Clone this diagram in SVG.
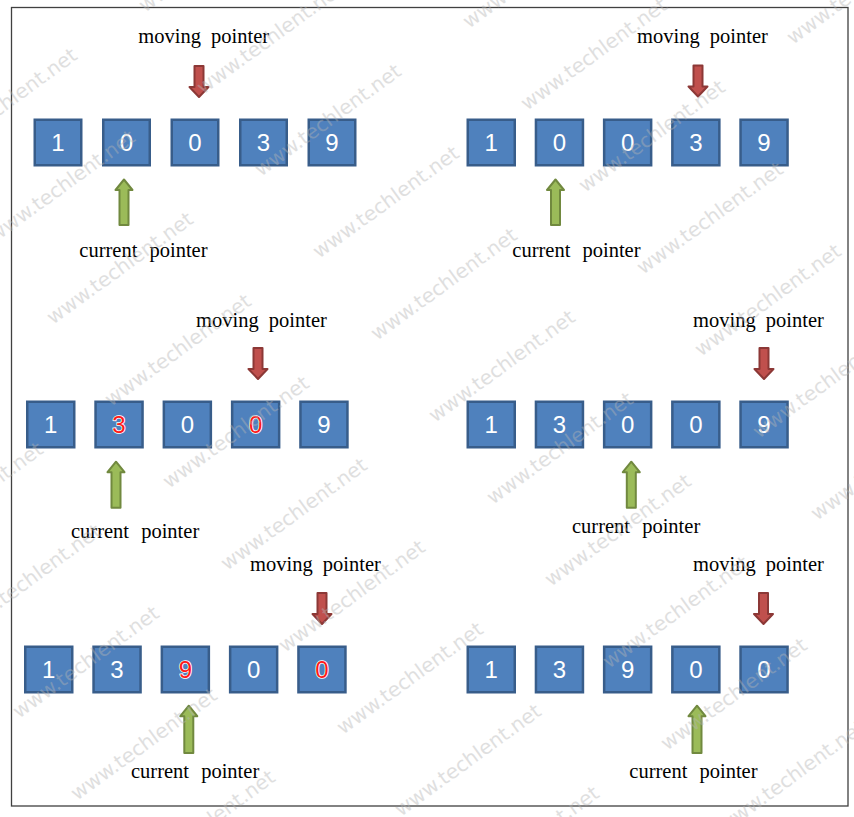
<svg xmlns="http://www.w3.org/2000/svg" width="854" height="817" viewBox="0 0 854 817">
<style>
.box{fill:#4f81bd;stroke:#385d8a;stroke-width:2.5}
.dg{font-family:"Liberation Sans",Arial,sans-serif;font-size:24px;fill:#ffffff;text-anchor:middle}
.dr{fill:#ff1a1a;stroke:#ffffff;stroke-width:1.6;paint-order:stroke}
.lbl{font-family:"Liberation Serif","Times New Roman",serif;font-size:20.5px;fill:#000000}
.mv{word-spacing:5px}
.cu{word-spacing:7px}
.red{fill:#c0504d;stroke:#8c3836;stroke-width:2;stroke-linejoin:round}
.grn{fill:#9bbb59;stroke:#71893f;stroke-width:2;stroke-linejoin:round}
.frame{fill:#ffffff;stroke:#404040;stroke-width:1.3}
.wm{font-family:"DejaVu Sans",Verdana,sans-serif;font-size:20px;fill:#b4b4b4;opacity:0.42}
</style>
<rect x="0" y="0" width="854" height="817" fill="#ffffff"/>
<rect class="frame" x="11.5" y="7.5" width="836.5" height="798.5"/>

<!-- Panel 1 -->
<g id="p1">
<g id="p1-b1"><rect class="box" x="34.75" y="119.75" width="46.5" height="45.5"/><text class="dg" x="58" y="151">1</text></g>
<g id="p1-b2"><rect class="box" x="103.25" y="119.75" width="46.5" height="45.5"/><text class="dg" x="126.5" y="151">0</text></g>
<g id="p1-b3"><rect class="box" x="171.75" y="119.75" width="46.5" height="45.5"/><text class="dg" x="195" y="151">0</text></g>
<g id="p1-b4"><rect class="box" x="240.25" y="119.75" width="46.5" height="45.5"/><text class="dg" x="263.5" y="151">3</text></g>
<g id="p1-b5"><rect class="box" x="308.75" y="119.75" width="46.5" height="45.5"/><text class="dg" x="332" y="151">9</text></g>
<g id="p1-moving-label"><text class="lbl mv" x="138.3" y="43.3">moving pointer</text></g>
<g id="p1-current-label"><text class="lbl cu" x="79.3" y="257">current pointer</text></g>
</g>

<!-- Panel 2 -->
<g id="p2">
<g id="p2-b1"><rect class="box" x="467.75" y="119.75" width="47" height="45.5"/><text class="dg" x="491.25" y="151">1</text></g>
<g id="p2-b2"><rect class="box" x="535.95" y="119.75" width="47" height="45.5"/><text class="dg" x="559.45" y="151">0</text></g>
<g id="p2-b3"><rect class="box" x="604.15" y="119.75" width="47" height="45.5"/><text class="dg" x="627.65" y="151">0</text></g>
<g id="p2-b4"><rect class="box" x="672.35" y="119.75" width="47" height="45.5"/><text class="dg" x="695.85" y="151">3</text></g>
<g id="p2-b5"><rect class="box" x="740.55" y="119.75" width="47" height="45.5"/><text class="dg" x="764.05" y="151">9</text></g>
<g id="p2-moving-label"><text class="lbl mv" x="637" y="43.3">moving pointer</text></g>
<g id="p2-current-label"><text class="lbl cu" x="512.3" y="257">current pointer</text></g>
</g>

<!-- Panel 3 -->
<g id="p3">
<g id="p3-b1"><rect class="box" x="27.25" y="401.75" width="47" height="45.5"/><text class="dg" x="50.75" y="433.1">1</text></g>
<g id="p3-b2"><rect class="box" x="95.55" y="401.75" width="47" height="45.5"/><text class="dg dr" x="119.05" y="433.1">3</text></g>
<g id="p3-b3"><rect class="box" x="163.85" y="401.75" width="47" height="45.5"/><text class="dg" x="187.35" y="433.1">0</text></g>
<g id="p3-b4"><rect class="box" x="232.15" y="401.75" width="47" height="45.5"/><text class="dg dr" x="255.65" y="433.1">0</text></g>
<g id="p3-b5"><rect class="box" x="300.45" y="401.75" width="47" height="45.5"/><text class="dg" x="323.95" y="433.1">9</text></g>
<g id="p3-moving-label"><text class="lbl mv" x="196" y="326.7">moving pointer</text></g>
<g id="p3-current-label"><text class="lbl cu" x="71" y="538">current pointer</text></g>
</g>

<!-- Panel 4 -->
<g id="p4">
<g id="p4-b1"><rect class="box" x="467.75" y="401.75" width="47" height="45.5"/><text class="dg" x="491.25" y="433.1">1</text></g>
<g id="p4-b2"><rect class="box" x="535.95" y="401.75" width="47" height="45.5"/><text class="dg" x="559.45" y="433.1">3</text></g>
<g id="p4-b3"><rect class="box" x="604.15" y="401.75" width="47" height="45.5"/><text class="dg" x="627.65" y="433.1">0</text></g>
<g id="p4-b4"><rect class="box" x="672.35" y="401.75" width="47" height="45.5"/><text class="dg" x="695.85" y="433.1">0</text></g>
<g id="p4-b5"><rect class="box" x="740.55" y="401.75" width="47" height="45.5"/><text class="dg" x="764.05" y="433.1">9</text></g>
<g id="p4-moving-label"><text class="lbl mv" x="693" y="326.7">moving pointer</text></g>
<g id="p4-current-label"><text class="lbl cu" x="572" y="533">current pointer</text></g>
</g>

<!-- Panel 5 -->
<g id="p5">
<g id="p5-b1"><rect class="box" x="25.25" y="646.75" width="47" height="45.5"/><text class="dg" x="48.75" y="678.1">1</text></g>
<g id="p5-b2"><rect class="box" x="93.55" y="646.75" width="47" height="45.5"/><text class="dg" x="117.05" y="678.1">3</text></g>
<g id="p5-b3"><rect class="box" x="161.85" y="646.75" width="47" height="45.5"/><text class="dg dr" x="185.35" y="678.1">9</text></g>
<g id="p5-b4"><rect class="box" x="230.15" y="646.75" width="47" height="45.5"/><text class="dg" x="253.65" y="678.1">0</text></g>
<g id="p5-b5"><rect class="box" x="298.45" y="646.75" width="47" height="45.5"/><text class="dg dr" x="321.95" y="678.1">0</text></g>
<g id="p5-moving-label"><text class="lbl mv" x="250" y="570.7">moving pointer</text></g>
<g id="p5-current-label"><text class="lbl cu" x="131" y="778">current pointer</text></g>
</g>

<!-- Panel 6 -->
<g id="p6">
<g id="p6-b1"><rect class="box" x="467.75" y="646.75" width="47" height="45.5"/><text class="dg" x="491.25" y="678.1">1</text></g>
<g id="p6-b2"><rect class="box" x="535.95" y="646.75" width="47" height="45.5"/><text class="dg" x="559.45" y="678.1">3</text></g>
<g id="p6-b3"><rect class="box" x="604.15" y="646.75" width="47" height="45.5"/><text class="dg" x="627.65" y="678.1">9</text></g>
<g id="p6-b4"><rect class="box" x="672.35" y="646.75" width="47" height="45.5"/><text class="dg" x="695.85" y="678.1">0</text></g>
<g id="p6-b5"><rect class="box" x="740.55" y="646.75" width="47" height="45.5"/><text class="dg" x="764.05" y="678.1">0</text></g>
<g id="p6-moving-label"><text class="lbl mv" x="693" y="570.7">moving pointer</text></g>
<g id="p6-current-label"><text class="lbl cu" x="629.3" y="778">current pointer</text></g>
</g>

<!-- Pointer arrows -->
<g id="connectors">
<path class="red" d="M194.5,66 L203.5,66 L203.5,87 L208.5,87 L199,97 L189.5,87 L194.5,87 Z"/>
<path class="red" d="M693.5,65.5 L702.5,65.5 L702.5,86.5 L707.5,86.5 L698,96.5 L688.5,86.5 L693.5,86.5 Z"/>
<path class="red" d="M253.5,348 L262.5,348 L262.5,369 L267.5,369 L258,379 L248.5,369 L253.5,369 Z"/>
<path class="red" d="M759.5,348 L768.5,348 L768.5,369 L773.5,369 L764,379 L754.5,369 L759.5,369 Z"/>
<path class="red" d="M317.5,593 L326.5,593 L326.5,614 L331.5,614 L322,624 L312.5,614 L317.5,614 Z"/>
<path class="red" d="M759,593 L768,593 L768,614 L773,614 L763.5,624 L754,614 L759,614 Z"/>

<path class="grn" d="M124,179.5 L132.5,190 L128.5,190 L128.5,225 L119.5,225 L119.5,190 L115.5,190 Z"/>
<path class="grn" d="M555.5,179.5 L564,190 L560,190 L560,225 L551,225 L551,190 L547,190 Z"/>
<path class="grn" d="M116,461.7 L124.5,472.2 L120.5,472.2 L120.5,507.7 L111.5,507.7 L111.5,472.2 L107.5,472.2 Z"/>
<path class="grn" d="M631.3,461.7 L639.8,472.2 L635.8,472.2 L635.8,507.7 L626.8,507.7 L626.8,472.2 L622.8,472.2 Z"/>
<path class="grn" d="M188.8,705.7 L197.3,716.2 L193.3,716.2 L193.3,753 L184.3,753 L184.3,716.2 L180.3,716.2 Z"/>
<path class="grn" d="M697,705.7 L705.5,716.2 L701.5,716.2 L701.5,753 L692.5,753 L692.5,716.2 L688.5,716.2 Z"/>
</g>

<!-- Watermark -->
<g id="watermark">
<text class="wm" x="-97" y="555" transform="rotate(-36 -97 555)">www.techlent.net</text>
<text class="wm" x="-39" y="637" transform="rotate(-36 -39 637)">www.techlent.net</text>
<text class="wm" x="19" y="719" transform="rotate(-36 19 719)">www.techlent.net</text>
<text class="wm" x="77" y="801" transform="rotate(-36 77 801)">www.techlent.net</text>
<text class="wm" x="135" y="883" transform="rotate(-36 135 883)">www.techlent.net</text>
<text class="wm" x="-63" y="161" transform="rotate(-36 -63 161)">www.techlent.net</text>
<text class="wm" x="-5" y="243" transform="rotate(-36 -5 243)">www.techlent.net</text>
<text class="wm" x="53" y="325" transform="rotate(-36 53 325)">www.techlent.net</text>
<text class="wm" x="111" y="407" transform="rotate(-36 111 407)">www.techlent.net</text>
<text class="wm" x="169" y="489" transform="rotate(-36 169 489)">www.techlent.net</text>
<text class="wm" x="227" y="571" transform="rotate(-36 227 571)">www.techlent.net</text>
<text class="wm" x="285" y="653" transform="rotate(-36 285 653)">www.techlent.net</text>
<text class="wm" x="343" y="735" transform="rotate(-36 343 735)">www.techlent.net</text>
<text class="wm" x="401" y="817" transform="rotate(-36 401 817)">www.techlent.net</text>
<text class="wm" x="459" y="899" transform="rotate(-36 459 899)">www.techlent.net</text>
<text class="wm" x="145" y="13" transform="rotate(-36 145 13)">www.techlent.net</text>
<text class="wm" x="203" y="95" transform="rotate(-36 203 95)">www.techlent.net</text>
<text class="wm" x="261" y="177" transform="rotate(-36 261 177)">www.techlent.net</text>
<text class="wm" x="319" y="259" transform="rotate(-36 319 259)">www.techlent.net</text>
<text class="wm" x="377" y="341" transform="rotate(-36 377 341)">www.techlent.net</text>
<text class="wm" x="435" y="423" transform="rotate(-36 435 423)">www.techlent.net</text>
<text class="wm" x="493" y="505" transform="rotate(-36 493 505)">www.techlent.net</text>
<text class="wm" x="551" y="587" transform="rotate(-36 551 587)">www.techlent.net</text>
<text class="wm" x="609" y="669" transform="rotate(-36 609 669)">www.techlent.net</text>
<text class="wm" x="667" y="751" transform="rotate(-36 667 751)">www.techlent.net</text>
<text class="wm" x="725" y="833" transform="rotate(-36 725 833)">www.techlent.net</text>
<text class="wm" x="469" y="29" transform="rotate(-36 469 29)">www.techlent.net</text>
<text class="wm" x="527" y="111" transform="rotate(-36 527 111)">www.techlent.net</text>
<text class="wm" x="585" y="193" transform="rotate(-36 585 193)">www.techlent.net</text>
<text class="wm" x="643" y="275" transform="rotate(-36 643 275)">www.techlent.net</text>
<text class="wm" x="701" y="357" transform="rotate(-36 701 357)">www.techlent.net</text>
<text class="wm" x="759" y="439" transform="rotate(-36 759 439)">www.techlent.net</text>
<text class="wm" x="817" y="521" transform="rotate(-36 817 521)">www.techlent.net</text>
<text class="wm" x="793" y="45" transform="rotate(-36 793 45)">www.techlent.net</text>
</g>
</svg>
